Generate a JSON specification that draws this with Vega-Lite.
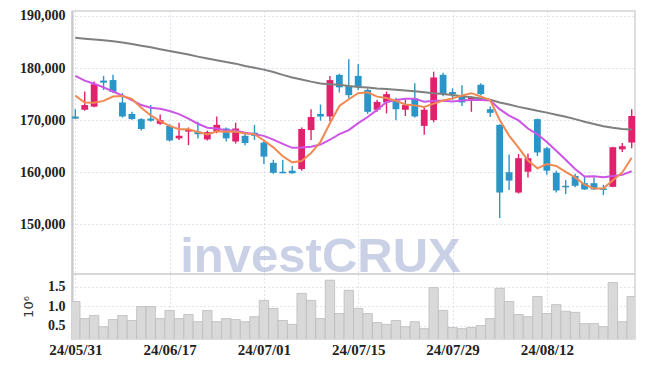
{
  "$schema": "https://vega.github.io/schema/vega-lite/v6.json",
  "padding": {"left": 18, "top": 8, "right": 5, "bottom": 5},
  "spacing": 0,
  "bounds": "flush",
  "background": "white",
  "config": {
    "view": {"stroke": "#d4d4d4", "strokeWidth": 1.5},
    "axis": {
      "gridColor": "#c6c6dc", "gridDash": [1, 3], "gridWidth": 1,
      "ticks": false, "tickSize": 0, "domain": false,
      "labelFont": "Liberation Sans Narrow", "labelFontWeight": "bold",
      "labelColor": "#222222", "labelFontSize": 15, "title": null
    }
  },
  "datasets": {
    "px": [
      {"d":"24/05/31","o":170700,"h":172100,"l":170200,"c":170300,"v":1120000,"ma5":174700,"ma10":178500,"ma60":185830},
      {"d":"24/06/03","o":172000,"h":175500,"l":171800,"c":172900,"v":680000,"ma5":173400,"ma10":177600,"ma60":185650},
      {"d":"24/06/04","o":172600,"h":177400,"l":172500,"c":176900,"v":760000,"ma5":173350,"ma10":177000,"ma60":185500},
      {"d":"24/06/05","o":177600,"h":178500,"l":175800,"c":177200,"v":470000,"ma5":173700,"ma10":176300,"ma60":185330},
      {"d":"24/06/07","o":177700,"h":178700,"l":175200,"c":175400,"v":655000,"ma5":174540,"ma10":175500,"ma60":185150},
      {"d":"24/06/10","o":173400,"h":175200,"l":170500,"c":170700,"v":760000,"ma5":174620,"ma10":174700,"ma60":184900},
      {"d":"24/06/11","o":171200,"h":171600,"l":170100,"c":170200,"v":630000,"ma5":174080,"ma10":173850,"ma60":184620},
      {"d":"24/06/12","o":170200,"h":170400,"l":168000,"c":168300,"v":990000,"ma5":172360,"ma10":172900,"ma60":184300},
      {"d":"24/06/13","o":170300,"h":172900,"l":169700,"c":169900,"v":990000,"ma5":170900,"ma10":172370,"ma60":183980},
      {"d":"24/06/14","o":169300,"h":171100,"l":169100,"c":170000,"v":680000,"ma5":169820,"ma10":172180,"ma60":183630},
      {"d":"24/06/17","o":168900,"h":169200,"l":165900,"c":166100,"v":890000,"ma5":168900,"ma10":171760,"ma60":183300},
      {"d":"24/06/18","o":166500,"h":169500,"l":166200,"c":167000,"v":680000,"ma5":168260,"ma10":171170,"ma60":182950},
      {"d":"24/06/19","o":167800,"h":168600,"l":165200,"c":168200,"v":785000,"ma5":168240,"ma10":170300,"ma60":182600},
      {"d":"24/06/20","o":167800,"h":169700,"l":166500,"c":167300,"v":600000,"ma5":167720,"ma10":169310,"ma60":182200},
      {"d":"24/06/21","o":166300,"h":168000,"l":166100,"c":167700,"v":890000,"ma5":167260,"ma10":168540,"ma60":181850},
      {"d":"24/06/24","o":167800,"h":170700,"l":167500,"c":169100,"v":600000,"ma5":167860,"ma10":168380,"ma60":181500},
      {"d":"24/06/25","o":168400,"h":168600,"l":165900,"c":166500,"v":680000,"ma5":167760,"ma10":168010,"ma60":181150},
      {"d":"24/06/26","o":165900,"h":169500,"l":165500,"c":168400,"v":655000,"ma5":167800,"ma10":168020,"ma60":180850},
      {"d":"24/06/27","o":167000,"h":167600,"l":165200,"c":165600,"v":600000,"ma5":167460,"ma10":167590,"ma60":180400},
      {"d":"24/06/28","o":167600,"h":169100,"l":166200,"c":167000,"v":730000,"ma5":167320,"ma10":167290,"ma60":180080},
      {"d":"24/07/01","o":165700,"h":166200,"l":161600,"c":163000,"v":1150000,"ma5":166100,"ma10":166980,"ma60":179700},
      {"d":"24/07/02","o":161800,"h":162400,"l":159700,"c":159900,"v":940000,"ma5":164780,"ma10":166270,"ma60":179250},
      {"d":"24/07/03","o":160100,"h":162400,"l":159800,"c":159800,"v":630000,"ma5":163060,"ma10":165430,"ma60":178700},
      {"d":"24/07/04","o":160300,"h":161200,"l":159700,"c":159800,"v":530000,"ma5":161900,"ma10":164680,"ma60":178200},
      {"d":"24/07/05","o":160600,"h":168600,"l":160300,"c":168300,"v":1330000,"ma5":162160,"ma10":164740,"ma60":177800},
      {"d":"24/07/08","o":168100,"h":172100,"l":166200,"c":170600,"v":1150000,"ma5":163680,"ma10":164890,"ma60":177400},
      {"d":"24/07/09","o":171200,"h":173000,"l":169900,"c":170700,"v":680000,"ma5":165840,"ma10":165310,"ma60":177050},
      {"d":"24/07/10","o":170700,"h":178500,"l":169800,"c":177700,"v":1670000,"ma5":169420,"ma10":166240,"ma60":176900},
      {"d":"24/07/11","o":178700,"h":178900,"l":175300,"c":176300,"v":810000,"ma5":172720,"ma10":167310,"ma60":176800},
      {"d":"24/07/12","o":176600,"h":181700,"l":174200,"c":174800,"v":1410000,"ma5":174020,"ma10":168090,"ma60":176550},
      {"d":"24/07/15","o":178500,"h":180800,"l":175800,"c":176400,"v":940000,"ma5":175180,"ma10":169430,"ma60":176350},
      {"d":"24/07/16","o":175800,"h":176100,"l":171200,"c":171600,"v":810000,"ma5":175360,"ma10":170600,"ma60":176250},
      {"d":"24/07/17","o":172000,"h":173900,"l":171600,"c":173500,"v":580000,"ma5":174520,"ma10":171970,"ma60":176100},
      {"d":"24/07/18","o":173400,"h":175500,"l":171300,"c":175000,"v":530000,"ma5":174260,"ma10":173490,"ma60":176000},
      {"d":"24/07/19","o":173900,"h":174300,"l":170000,"c":172100,"v":630000,"ma5":173720,"ma10":173870,"ma60":175850},
      {"d":"24/07/22","o":172000,"h":174000,"l":170800,"c":172900,"v":470000,"ma5":173020,"ma10":174100,"ma60":175700},
      {"d":"24/07/23","o":174200,"h":177100,"l":170500,"c":170700,"v":600000,"ma5":172840,"ma10":174100,"ma60":175550},
      {"d":"24/07/24","o":168900,"h":172600,"l":167200,"c":172000,"v":420000,"ma5":172540,"ma10":173530,"ma60":175350},
      {"d":"24/07/25","o":170000,"h":179300,"l":169600,"c":178200,"v":1480000,"ma5":173180,"ma10":173720,"ma60":175150},
      {"d":"24/07/26","o":178700,"h":179100,"l":174600,"c":175000,"v":890000,"ma5":173760,"ma10":173740,"ma60":175000},
      {"d":"24/07/29","o":175400,"h":176100,"l":173900,"c":175000,"v":450000,"ma5":174180,"ma10":173600,"ma60":174830},
      {"d":"24/07/30","o":174600,"h":176700,"l":172700,"c":173400,"v":420000,"ma5":174720,"ma10":173780,"ma60":174600},
      {"d":"24/07/31","o":173900,"h":174600,"l":171600,"c":174300,"v":450000,"ma5":175180,"ma10":173860,"ma60":174400},
      {"d":"24/08/01","o":176800,"h":177100,"l":174800,"c":175000,"v":500000,"ma5":174540,"ma10":173860,"ma60":174150},
      {"d":"24/08/02","o":172100,"h":172600,"l":170600,"c":171400,"v":680000,"ma5":173820,"ma10":173790,"ma60":173900},
      {"d":"24/08/05","o":169100,"h":169200,"l":151200,"c":156100,"v":1460000,"ma5":170040,"ma10":172110,"ma60":173400},
      {"d":"24/08/06","o":160000,"h":163400,"l":156600,"c":158400,"v":1120000,"ma5":167040,"ma10":170880,"ma60":173000},
      {"d":"24/08/07","o":156100,"h":163500,"l":155900,"c":162700,"v":785000,"ma5":164720,"ma10":169950,"ma60":172550},
      {"d":"24/08/08","o":160100,"h":163600,"l":159000,"c":162700,"v":730000,"ma5":162260,"ma10":168400,"ma60":172200},
      {"d":"24/08/09","o":170200,"h":170300,"l":163100,"c":163800,"v":1250000,"ma5":160740,"ma10":167280,"ma60":171800},
      {"d":"24/08/12","o":164600,"h":164900,"l":159500,"c":160300,"v":810000,"ma5":161580,"ma10":165810,"ma60":171450},
      {"d":"24/08/13","o":159900,"h":160300,"l":156100,"c":156500,"v":1040000,"ma5":161200,"ma10":164120,"ma60":171050},
      {"d":"24/08/14","o":157400,"h":158500,"l":155800,"c":157100,"v":870000,"ma5":160080,"ma10":162400,"ma60":170650},
      {"d":"24/08/16","o":159300,"h":159700,"l":157100,"c":157400,"v":840000,"ma5":159020,"ma10":160640,"ma60":170200},
      {"d":"24/08/19","o":157900,"h":159300,"l":156600,"c":156700,"v":550000,"ma5":157600,"ma10":159170,"ma60":169700},
      {"d":"24/08/20","o":157900,"h":159000,"l":156600,"c":156700,"v":550000,"ma5":156880,"ma10":159230,"ma60":169250},
      {"d":"24/08/21","o":156900,"h":157600,"l":155600,"c":156600,"v":470000,"ma5":156900,"ma10":159050,"ma60":168850},
      {"d":"24/08/22","o":157200,"h":164900,"l":157100,"c":164800,"v":1610000,"ma5":158440,"ma10":159260,"ma60":168550},
      {"d":"24/08/23","o":164400,"h":165600,"l":163900,"c":165000,"v":600000,"ma5":159960,"ma10":159490,"ma60":168300},
      {"d":"24/08/26","o":165700,"h":172100,"l":164600,"c":170800,"v":1250000,"ma5":162780,"ma10":160190,"ma60":168200}
    ]
  },
  "vconcat": [
    {
      "width": 563,
      "height": 263,
      "layer": [
        {
          "data": {"name": "px"},
          "mark": {"type": "rule", "strokeWidth": 1.4},
          "encoding": {
            "x": {
              "field": "d", "type": "ordinal", "sort": "ascending",
              "scale": {"type": "point", "padding": 0.35},
              "axis": {"values": ["24/05/31","24/06/17","24/07/01","24/07/15","24/07/29","24/08/12"], "labels": false, "grid": true, "title": null}
            },
            "y": {
              "field": "l", "type": "quantitative",
              "scale": {"domain": [140460, 190960], "nice": false, "zero": false},
              "axis": {"values": [150000,160000,170000,180000,190000], "format": ",d", "grid": true, "domain": true, "domainColor": "#c8c8c8", "domainWidth": 2, "labelPadding": 7, "labelFontSize": 14, "title": null}
            },
            "y2": {"field": "h"},
            "color": {"condition": {"test": "datum.c >= datum.o", "value": "#e2216d"}, "value": "#2b95c8"}
          }
        },
        {
          "data": {"values": [{"label": "investCRUX"}]},
          "mark": {"type": "text", "font": "Liberation Sans", "fontWeight": "bold", "fontSize": 49, "fill": "#97a3cc", "opacity": 0.5, "align": "center", "baseline": "alphabetic"},
          "encoding": {
            "x": {"datum": "24/07/09", "type": "ordinal"},
            "y": {"datum": 140900, "type": "quantitative"},
            "text": {"field": "label"}
          }
        },
        {
          "data": {"name": "px"},
          "mark": {"type": "bar", "size": 6.8},
          "encoding": {
            "x": {"field": "d", "type": "ordinal"},
            "y": {"field": "o", "type": "quantitative"},
            "y2": {"field": "c"},
            "color": {"condition": {"test": "datum.c >= datum.o", "value": "#e2216d"}, "value": "#2b95c8"}
          }
        },
        {
          "data": {"name": "px"},
          "mark": {"type": "line", "color": "#7f7f7f", "strokeWidth": 2},
          "encoding": {"x": {"field": "d", "type": "ordinal"}, "y": {"field": "ma60", "type": "quantitative"}}
        },
        {
          "data": {"name": "px"},
          "mark": {"type": "line", "color": "#cc55e6", "strokeWidth": 2},
          "encoding": {"x": {"field": "d", "type": "ordinal"}, "y": {"field": "ma10", "type": "quantitative"}}
        },
        {
          "data": {"name": "px"},
          "mark": {"type": "line", "color": "#f08a52", "strokeWidth": 2},
          "encoding": {"x": {"field": "d", "type": "ordinal"}, "y": {"field": "ma5", "type": "quantitative"}}
        }
      ]
    },
    {
      "width": 563,
      "height": 65,
      "data": {"name": "px"},
      "mark": {"type": "bar", "size": 9.4, "fill": "#d9d9d9", "stroke": "#bcbcbc", "strokeWidth": 0.8, "clip": true},
      "encoding": {
        "x": {
          "field": "d", "type": "ordinal", "sort": "ascending",
          "scale": {"type": "point", "padding": 0.35},
          "axis": {"values": ["24/05/31","24/06/17","24/07/01","24/07/15","24/07/29","24/08/12"], "grid": true, "labelAngle": 0, "labelFontSize": 15, "labelPadding": 3, "labelOverlap": false, "title": null}
        },
        "y": {
          "field": "v", "type": "quantitative",
          "scale": {"domain": [153000, 1830000], "nice": false, "zero": false},
          "axis": {
            "values": [500000, 1000000, 1500000],
            "labelExpr": "format(datum.value / 1000000, '.1f')",
            "grid": true, "domain": true, "domainColor": "#c8c8c8", "domainWidth": 2, "labelPadding": 7, "labelFontSize": 14,
            "title": "10⁶", "titleFont": "DejaVu Sans", "titleFontWeight": "normal", "titleFontSize": 13, "titleColor": "#333333", "titlePadding": 12
          }
        }
      }
    }
  ]
}
